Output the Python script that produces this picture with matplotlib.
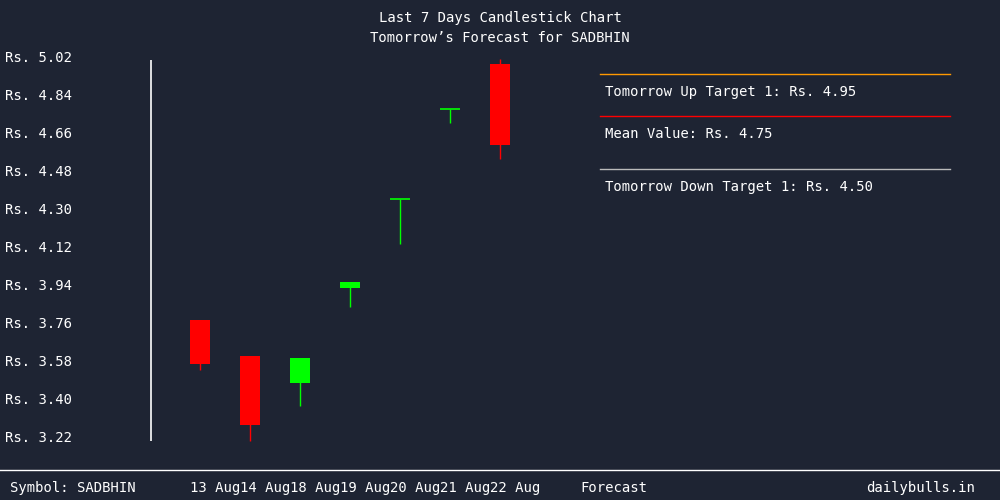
import matplotlib
matplotlib.use("Agg")
import matplotlib.pyplot as plt
from matplotlib.transforms import blended_transform_factory

dates = ["13 Aug", "14 Aug", "18 Aug", "19 Aug", "20 Aug", "21 Aug", "22 Aug"]
opens = [3.78, 3.61, 3.48, 3.93, 4.35, 4.78, 4.99]
closes = [3.57, 3.28, 3.60, 3.96, 4.35, 4.78, 4.61]
highs = [3.78, 3.61, 3.60, 3.96, 4.35, 4.78, 5.015]
lows = [3.54, 3.205, 3.37, 3.84, 4.14, 4.71, 4.54]
yticks = [3.22, 3.40, 3.58, 3.76, 3.94, 4.12, 4.30, 4.48, 4.66, 4.84, 5.02]
targets = [("Tomorrow Up Target 1: Rs. 4.95", "#ff9900"),
           ("Mean Value: Rs. 4.75", "#ff0000"),
           ("Tomorrow Down Target 1: Rs. 4.50", "#bbbbbb")]

bg = "#1e2433"
font = "DejaVu Sans Mono"
W, H = 1000, 500
fig = plt.figure(figsize=(10, 5), dpi=100, facecolor=bg)
ax = fig.add_axes([150 / W, 1 - 445 / H, 850 / W, 395 / H], facecolor=bg)
ppu = 380 / 1.80
ax.set_ylim(3.22 - 7 / ppu, 3.22 + 388 / ppu)
ax.set_xlim(-1, 16)
for s in ax.spines.values():
    s.set_visible(False)
ax.set_xticks([]); ax.set_yticks([])

for i in range(len(dates)):
    up = closes[i] >= opens[i]
    c = "#00ff00" if up else "#ff0000"
    ax.vlines(i, lows[i], highs[i], color=c, lw=1)
    lo, hi = min(opens[i], closes[i]), max(opens[i], closes[i])
    if hi - lo < 0.01:
        ax.hlines(hi, i - 0.2, i + 0.2, color=c, lw=1.2)
    else:
        ax.bar(i, hi - lo, bottom=lo, width=0.4, color=c)

ax.vlines(-1 + 0.02, 3.205, 5.01, color="white", lw=1.2)

for t in yticks:
    y = 1 - (438 - (t - 3.22) * ppu) / H
    fig.text(5 / W, y, f"Rs. {t:.2f}", color="white", fontsize=10, family=font, va="center", ha="left")

fig.text(0.5, 1 - 18 / H, "Last 7 Days Candlestick Chart", color="white", fontsize=10, family=font, ha="center", va="center")
fig.text(0.5, 1 - 38 / H, "Tomorrow’s Forecast for SADBHIN", color="white", fontsize=10, family=font, ha="center", va="center")

ys = [74, 116, 169]
for (label, col), yl in zip(targets, ys):
    fig.add_artist(plt.Line2D([600 / W, 950 / W], [1 - yl / H] * 2, color=col, lw=1))
    fig.text(605 / W, 1 - (yl + 18) / H, label, color="white", fontsize=10, family=font, va="center")

fig.add_artist(plt.Line2D([0, 1], [1 - 470 / H] * 2, color="white", lw=1))
fig.text(10 / W, 1 - 488 / H, "Symbol: SADBHIN", color="white", fontsize=10, family=font, va="center")
fig.text(975 / W, 1 - 488 / H, "dailybulls.in", color="white", fontsize=10, family=font, va="center", ha="right")
for i, d in enumerate(dates):
    x = (200 + 50 * i - 10) / W
    fig.text(x, 1 - 488 / H, d, color="white", fontsize=10, family=font, va="center")
fig.text(580 / W, 1 - 488 / H, "Forecast", color="white", fontsize=10, family=font, va="center")

fig.savefig("out.png", dpi=100, facecolor=bg)
